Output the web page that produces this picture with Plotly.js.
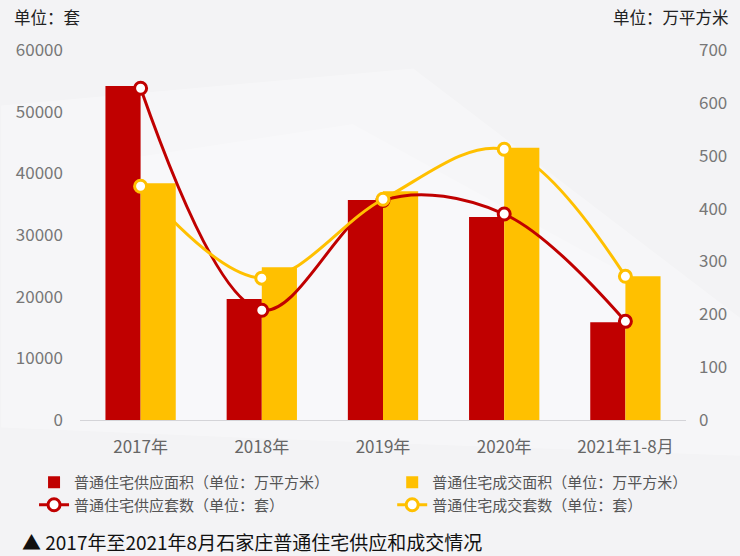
<!DOCTYPE html>
<html>
<head>
<meta charset="utf-8">
<script src="https://cdn.plot.ly/plotly-3.0.1.min.js"></script>
<style>html,body{margin:0;padding:0;background:#f2f2f4;}#chart{width:740px;height:556px;}</style>
</head>
<body>
<div id="chart"></div>
<script>
// Categories
const categories = ['2017年', '2018年', '2019年', '2020年', '2021年1-8月'];
// Bars (单位：万平方米)
const supplyArea = [632, 229, 416, 384, 185];
const dealArea = [448, 289, 433, 515, 272];
// Lines (单位：套)
const supplyUnits = [53800, 17800, 35600, 33400, 16000];
const dealUnits = [37900, 23000, 35800, 43900, 23300];
// Tick labels
const leftTicks = [0, 10000, 20000, 30000, 40000, 50000, 60000];
const rightTicks = [0, 100, 200, 300, 400, 500, 600, 700];

const RED = '#c00000';
const YEL = '#ffc000';
const FONT = '"Noto Sans CJK SC", "Noto Sans", sans-serif';

// Bars use the base axis (right side, 万平方米); lines use the overlay axis (left side, 套) so they draw on top.
const traces = [
  {type: 'bar', x: categories, y: supplyArea, yaxis: 'y', name: '普通住宅供应面积（单位：万平方米）',
   marker: {color: RED}, legend: 'legend', offsetgroup: 'a', hoverinfo: 'skip'},
  {type: 'bar', x: categories, y: dealArea, yaxis: 'y', name: '普通住宅成交面积（单位：万平方米）',
   marker: {color: YEL}, legend: 'legend2', offsetgroup: 'b', hoverinfo: 'skip'},
  {type: 'scatter', mode: 'lines+markers', x: categories, y: supplyUnits, yaxis: 'y2', name: '普通住宅供应套数（单位：套）',
   line: {color: RED, width: 3, shape: 'spline', smoothing: 1},
   marker: {symbol: 'circle', size: 12, color: '#ffffff', line: {color: RED, width: 3}}, legend: 'legend'},
  {type: 'scatter', mode: 'lines+markers', x: categories, y: dealUnits, yaxis: 'y2', name: '普通住宅成交套数（单位：套）',
   line: {color: YEL, width: 3, shape: 'spline', smoothing: 1},
   marker: {symbol: 'circle', size: 12, color: '#ffffff', line: {color: YEL, width: 3}}, legend: 'legend2'}
];

const layout = {
  width: 740, height: 556,
  margin: {l: 80, r: 54, t: 50, b: 136, autoexpand: false},
  paper_bgcolor: '#f3f3f5',
  plot_bgcolor: 'rgba(0,0,0,0)',
  font: {family: FONT, color: '#666'},
  barmode: 'group',
  bargap: 0.42,
  bargroupgap: 0,
  showlegend: true,
  xaxis: {
    type: 'category', showgrid: false, zeroline: false,
    showline: true, linecolor: '#d4d4d8', linewidth: 1,
    ticks: '', ticklabelstandoff: 12, tickangle: 0, automargin: false,
    tickfont: {size: 17, color: '#666', family: FONT}
  },
  yaxis: {
    range: [0, 700], tickvals: rightTicks, ticktext: rightTicks.map(String),
    side: 'right', automargin: false,
    showgrid: false, zeroline: false, showline: false, ticks: '',
    ticklabelstandoff: 12,
    tickfont: {size: 17, color: '#777', family: FONT}
  },
  yaxis2: {
    range: [0, 60000], tickvals: leftTicks, ticktext: leftTicks.map(String),
    overlaying: 'y', side: 'left', automargin: false,
    showgrid: false, zeroline: false, showline: false, ticks: '',
    ticklabelstandoff: 16,
    tickfont: {size: 17, color: '#777', family: FONT}
  },
  legend: {
    xref: 'container', yref: 'container', x: 0.046, y: 1 - 466/556,
    xanchor: 'left', yanchor: 'top', orientation: 'v',
    bgcolor: 'rgba(0,0,0,0)', font: {size: 15, color: '#555', family: FONT},
    tracegroupgap: 0, itemwidth: 30
  },
  legend2: {
    xref: 'container', yref: 'container', x: 0.53, y: 1 - 466/556,
    xanchor: 'left', yanchor: 'top', orientation: 'v',
    bgcolor: 'rgba(0,0,0,0)', font: {size: 15, color: '#555', family: FONT},
    tracegroupgap: 0, itemwidth: 30
  },
  shapes: [
    {type: 'path', xref: 'paper', yref: 'paper', layer: 'below', line: {width: 0},
     fillcolor: 'rgba(255,255,255,0.3)',
     path: 'M -0.13 0.85 L 0.55 0.95 L 1.15 0.2 L 1.15 -0.1 L 0.3 -0.05 L -0.13 -0.02 Z'},
    {type: 'path', xref: 'paper', yref: 'paper', layer: 'below', line: {width: 0},
     fillcolor: 'rgba(255,255,255,0.25)',
     path: 'M 0.05 0.7 L 0.45 0.8 L 0.95 0.35 L 0.9 0.0 L 0.1 0.0 Z'}
  ],
  annotations: [
    {xref: 'paper', yref: 'paper', x: (12 - 80) / 606, y: (420 - 17) / 370, xanchor: 'left', yanchor: 'middle',
     text: '单位：套', showarrow: false, font: {size: 16.5, color: '#222', family: FONT}},
    {xref: 'paper', yref: 'paper', x: (611 - 80) / 606, y: (420 - 17) / 370, xanchor: 'left', yanchor: 'middle',
     text: '单位：万平方米', showarrow: false, font: {size: 16.5, color: '#222', family: FONT}},
    {xref: 'paper', yref: 'paper', x: (20 - 80) / 606, y: (420 - 541) / 370, xanchor: 'left', yanchor: 'middle',
     text: '▲ 2017年至2021年8月石家庄普通住宅供应和成交情况', showarrow: false,
     font: {size: 19, color: '#111', family: FONT}}
  ]
};

Plotly.newPlot('chart', traces, layout, {displayModeBar: false, staticPlot: true});
</script>
</body>
</html>
